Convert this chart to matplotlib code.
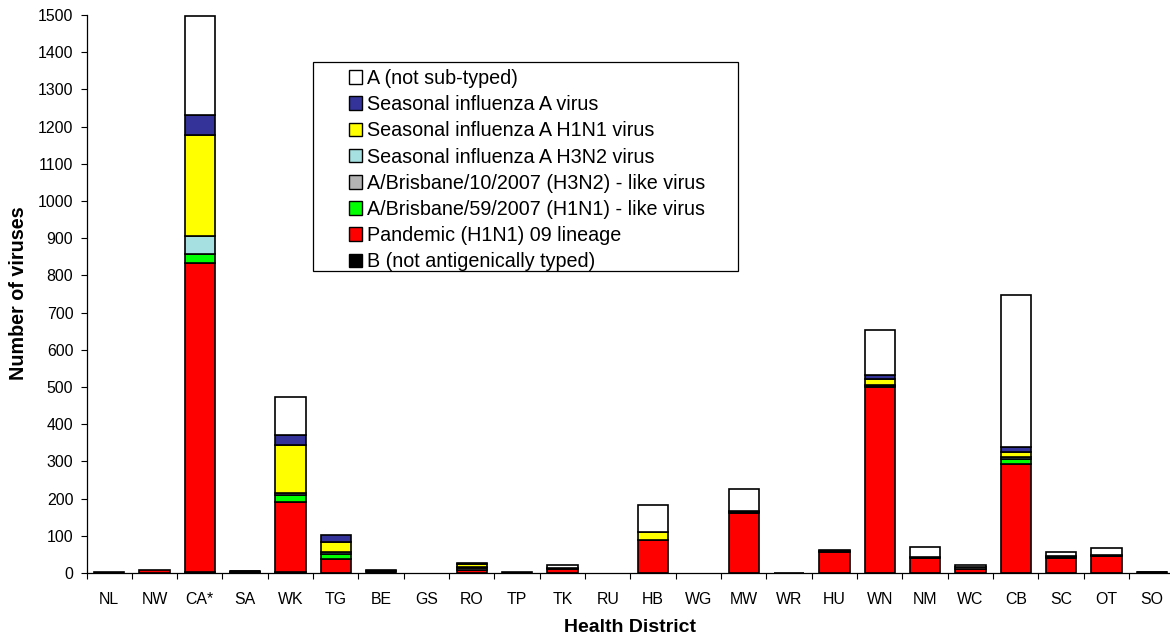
import numpy as np
import matplotlib
matplotlib.use("Agg")
import matplotlib.pyplot as plt
from matplotlib.patches import Rectangle

plt.rcParams['font.family'] = ['Liberation Sans', 'DejaVu Sans']

districts = ["NL", "NW", "CA*", "SA", "WK", "TG", "BE", "GS", "RO", "TP", "TK", "RU",
             "HB", "WG", "MW", "WR", "HU", "WN", "NM", "WC", "CB", "SC", "OT", "SO"]

# stacked bottom to top
b_untyped =     [1, 1, 2, 3, 3, 0, 5, 0, 1, 1, 1, 0, 0, 0, 1, 1, 1, 1, 0, 0, 1, 0, 0, 3]
pandemic =      [1, 6, 832, 1, 187, 37, 1, 0, 7, 0, 9, 0, 90, 0, 160, 0, 56, 498, 40, 12, 291, 41, 45, 1]
bris59 =        [0, 0, 24, 0, 20, 13, 0, 0, 1, 0, 0, 0, 0, 0, 3, 0, 3, 4, 2, 0, 14, 0, 1, 0]
bris10 =        [0, 0, 0, 1, 0, 0, 1, 0, 5, 2, 4, 0, 0, 0, 0, 0, 2, 0, 0, 4, 0, 3, 0, 0]
seasonal_h3n2 = [0, 0, 49, 1, 6, 6, 0, 0, 1, 0, 0, 0, 0, 0, 3, 0, 0, 3, 2, 0, 7, 2, 2, 0]
seasonal_h1n1 = [0, 0, 271, 0, 128, 26, 0, 0, 10, 0, 0, 0, 21, 0, 0, 0, 0, 15, 0, 0, 11, 0, 0, 0]
seasonal_a =    [0, 0, 54, 0, 27, 21, 0, 0, 3, 0, 0, 0, 0, 0, 0, 0, 0, 12, 0, 0, 14, 0, 0, 0]
a_untyped =     [0, 0, 266, 0, 103, 0, 0, 0, 0, 0, 8, 0, 71, 0, 58, 0, 0, 120, 25, 5, 409, 11, 18, 0]

series = [
    ("B (not antigenically typed)", b_untyped, "#000000"),
    ("Pandemic (H1N1) 09 lineage", pandemic, "#ff0000"),
    ("A/Brisbane/59/2007 (H1N1) - like virus", bris59, "#00ff00"),
    ("A/Brisbane/10/2007 (H3N2) - like virus", bris10, "#b4b4b4"),
    ("Seasonal influenza A H3N2 virus", seasonal_h3n2, "#a6e0e0"),
    ("Seasonal influenza A H1N1 virus", seasonal_h1n1, "#ffff00"),
    ("Seasonal influenza A virus", seasonal_a, "#333399"),
    ("A (not sub-typed)", a_untyped, "#ffffff"),
]

W, H = 1170, 639
fig = plt.figure(figsize=(W / 100, H / 100), dpi=100, facecolor="white")
ax = fig.add_axes([86.5 / W, (H - 573) / H, 45.33 * 24 / W, 558 / H])

x = np.arange(len(districts))
bottom = np.zeros(len(districts))
handles = []
for label, values, color in series:
    values = np.array(values, dtype=float)
    keep = values > 0
    ax.bar(x[keep], values[keep], 0.67, bottom=bottom[keep], color=color,
           edgecolor="black", linewidth=1.2)
    bottom += values
    handles.append(Rectangle((0, 0), 1, 1, facecolor=color, edgecolor="black", linewidth=1.0, label=label))

ax.set_xlim(-0.5, len(districts) - 0.5)
ax.set_ylim(0, 1500)
ax.spines['top'].set_visible(False)
ax.spines['right'].set_visible(False)
ax.spines['left'].set_linewidth(0.9)
ax.spines['bottom'].set_linewidth(0.9)

ax.set_yticks(np.arange(0, 1501, 100))
ax.tick_params(axis='y', labelsize=11.4, length=4.0, width=0.8, pad=5.5)

# ticks sit between categories, labels in the middle of each
ax.set_xticks(np.arange(len(districts) + 1) - 0.5)
ax.set_xticklabels([])
ax.set_xticks(x, minor=True)
ax.set_xticklabels(districts, minor=True)
ax.tick_params(axis='x', which='major', length=4.0, width=0.8)
ax.tick_params(axis='x', which='minor', length=0, labelsize=11.4, pad=14)

fig.text(630 / W, 1 - 627 / H, "Health District", ha='center', va='center', fontsize=14, fontweight='bold')
fig.text(19 / W, 1 - 293.5 / H, "Number of viruses", ha='center', va='center', rotation=90,
         fontsize=14.2, fontweight='bold')

# legend box
fig.add_artist(Rectangle((312.5 / W, 1 - 270.5 / H), 425 / W, 208.5 / H, transform=fig.transFigure,
                         facecolor="white", edgecolor="black", linewidth=0.9))
leg = fig.legend(handles=handles[::-1], loc='upper left', bbox_to_anchor=(343 / W, 1 - 63 / H),
                 frameon=False, fontsize=14.2, handlelength=0.67, handleheight=0.67,
                 handletextpad=0.25, labelspacing=0.365, borderpad=0.3, borderaxespad=0)
leg.set_zorder(5)

fig.savefig("out.png", dpi=100)
